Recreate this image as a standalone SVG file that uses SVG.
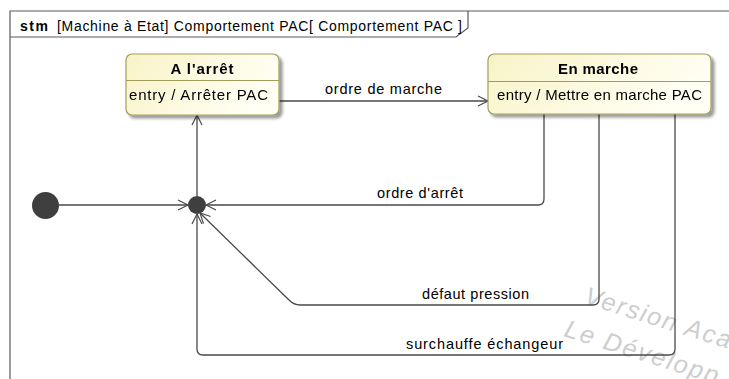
<svg xmlns="http://www.w3.org/2000/svg" width="729" height="379" viewBox="0 0 729 379">
  <style>
    .frame { fill: none; stroke: #5a5a5a; stroke-width: 1.2; }
    .title { font-family: "Liberation Sans", Arial, sans-serif; font-size: 14px; fill: #000; }
    .state { fill: url(#stateFill); stroke: #a39d5c; stroke-width: 1.2; }
    .divider { stroke: #a39d5c; stroke-width: 1; }
    .name { font-family: "Liberation Sans", Arial, sans-serif; font-size: 15px; font-weight: bold; fill: #000; text-anchor: middle; }
    .body { font-family: "Liberation Sans", Arial, sans-serif; font-size: 15px; fill: #000; }
    .edge { fill: none; stroke: #4a4a4a; stroke-width: 1.3; }
    .head { fill: none; stroke: #4a4a4a; stroke-width: 1.2; stroke-linejoin: miter; }
    .label { font-family: "Liberation Sans", Arial, sans-serif; font-size: 14.5px; fill: #000; }
    .dot { fill: #3f3f3f; }
    .mark { font-family: "Liberation Sans", Arial, sans-serif; font-size: 25px; font-style: italic; fill: #cdcdcd; }
  </style>
  <defs>
    <linearGradient id="stateFill" x1="0" y1="0" x2="1" y2="0.35">
      <stop offset="0" stop-color="#f8f3c6"/>
      <stop offset="1" stop-color="#fffff4"/>
    </linearGradient>
    <filter id="shadow" x="-10%" y="-10%" width="125%" height="140%">
      <feGaussianBlur in="SourceAlpha" stdDeviation="1.6"/>
      <feOffset dx="3" dy="3" result="blur"/>
      <feComponentTransfer><feFuncA type="linear" slope="0.4"/></feComponentTransfer>
      <feMerge><feMergeNode/><feMergeNode in="SourceGraphic"/></feMerge>
    </filter>
  </defs>

  <rect width="729" height="379" fill="#ffffff"/>

  <!-- diagram frame and name tab -->
  <g id="frame">
    <path class="frame" d="M10 379 V11 H729"/>
    <path class="frame" d="M10 37 H456 L468 28 V11"/>
    <text class="title" x="20" y="31" font-weight="bold" textLength="28" lengthAdjust="spacing">stm</text>
    <text class="title" x="57" y="31" textLength="405" lengthAdjust="spacing">[Machine à Etat] Comportement PAC[ Comportement PAC ]</text>
  </g>

  <!-- watermark -->
  <g id="watermark">
    <text class="mark" transform="translate(583 303) rotate(17.5)" textLength="152" lengthAdjust="spacing">Version Aca</text>
    <text class="mark" transform="translate(563 336) rotate(17.5)" textLength="160" lengthAdjust="spacing">Le Développ</text>
  </g>

  <!-- transitions -->
  <g id="connectors">
    <!-- ordre de marche -->
    <path class="edge" d="M279 101 H488"/>
    <path class="head" d="M478 96 L488 101 L478 106"/>
    <text class="label" x="325" y="94" textLength="117" lengthAdjust="spacing">ordre de marche</text>

    <!-- initial to junction -->
    <path class="edge" d="M59 205 H188"/>
    <path class="head" d="M178 200 L188 205 L178 210"/>

    <!-- junction to A l'arrêt -->
    <path class="edge" d="M197 196 V115"/>
    <path class="head" d="M192 125 L197 115 L202 125"/>

    <!-- ordre d'arrêt -->
    <path class="edge" d="M544 114 V199 Q544 205 538 205 H206"/>
    <path class="head" d="M216 200 L206 205 L216 210"/>
    <text class="label" x="377" y="198" textLength="86" lengthAdjust="spacing">ordre d'arrêt</text>

    <!-- défaut pression -->
    <path class="edge" d="M599 114 V299 Q599 305 593 305 H300 Q294 305 289 300 L200 213"/>
    <path class="head" d="M203.5 223.6 L200 213 L210.6 216.5"/>
    <text class="label" x="422" y="299" textLength="107" lengthAdjust="spacing">défaut pression</text>

    <!-- surchauffe échangeur -->
    <path class="edge" d="M675 114 V349 Q675 355 669 355 H203 Q197 355 197 349 V214"/>
    <path class="head" d="M192 224 L197 214 L202 224"/>
    <text class="label" x="406" y="349" textLength="157" lengthAdjust="spacing">surchauffe échangeur</text>
  </g>

  <!-- initial pseudostate -->
  <g id="initial">
    <circle class="dot" cx="45.5" cy="205.5" r="13.5"/>
  </g>

  <!-- junction pseudostate -->
  <g id="junction">
    <circle class="dot" cx="197" cy="205" r="9"/>
  </g>

  <!-- state A l'arrêt -->
  <g id="state-arret" filter="url(#shadow)">
    <rect class="state" x="126" y="54" width="153" height="61" rx="6"/>
    <line class="divider" x1="126" y1="80.5" x2="279" y2="80.5"/>
    <text class="name" x="202" y="74" textLength="63" lengthAdjust="spacing">A l'arrêt</text>
    <text class="body" x="129" y="100" textLength="139" lengthAdjust="spacing">entry / Arrêter PAC</text>
  </g>

  <!-- state En marche -->
  <g id="state-marche" filter="url(#shadow)">
    <rect class="state" x="488" y="54" width="223" height="60" rx="6"/>
    <line class="divider" x1="488" y1="81.5" x2="711" y2="81.5"/>
    <text class="name" x="598" y="74" textLength="80" lengthAdjust="spacing">En marche</text>
    <text class="body" x="497" y="100" textLength="205" lengthAdjust="spacing">entry / Mettre en marche PAC</text>
  </g>
</svg>
